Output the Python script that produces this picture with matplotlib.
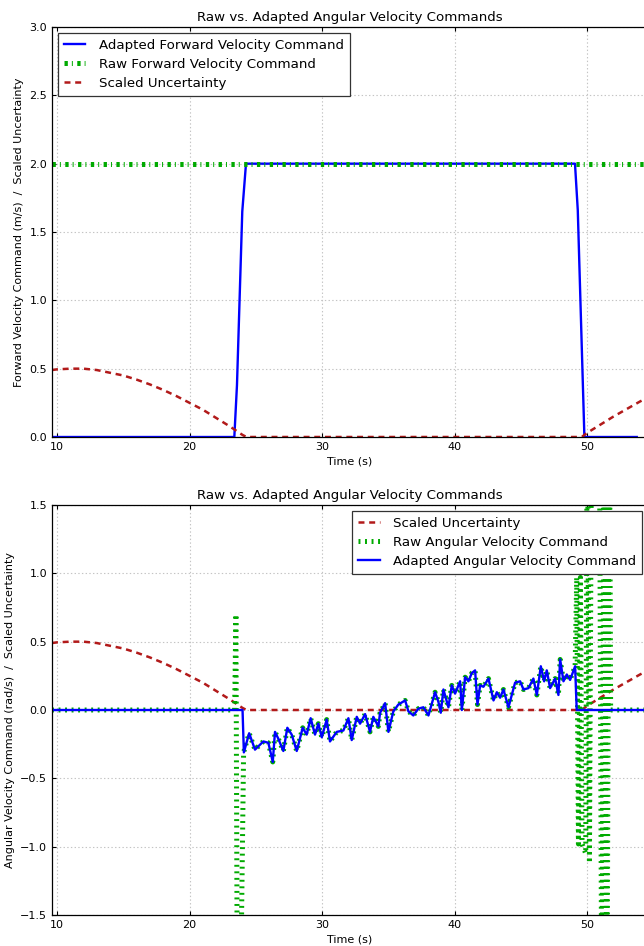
import matplotlib
matplotlib.use("Agg")
import matplotlib.pyplot as plt
from matplotlib.ticker import MultipleLocator

plt.rcParams['font.family'] = ['DejaVu Sans']
plt.rcParams['lines.scale_dashes'] = False

# ---------------- data ----------------
# scaled uncertainty (shared by both panels)
unc_t = [9.62, 10, 11, 12, 13, 14, 15, 16, 17, 18, 19, 20, 21, 22, 23, 24, 24.3,
         49.3, 49.6, 50, 51, 52, 53, 54, 54.7]
unc_v = [0.49, 0.495, 0.50, 0.50, 0.49, 0.47, 0.45, 0.42, 0.385, 0.345, 0.30, 0.25,
         0.20, 0.14, 0.08, 0.015, 0.0,
         0.0, 0.0, 0.03, 0.09, 0.15, 0.205, 0.26, 0.295]

# forward velocity
fwd_adapt_t = [9.62, 23.38, 23.58, 23.98, 24.26, 49.09, 49.30, 49.80, 53.75]
fwd_adapt_v = [0.0, 0.0, 0.38, 1.65, 2.0, 2.0, 1.66, 0.0, 0.0]
fwd_raw_t = [9.62, 54.7]
fwd_raw_v = [2.0, 2.0]

# angular velocity (adapted)
ang_t = [9.62, 24.0, 24.1, 24.5, 24.94, 25.57, 25.95, 26.28, 26.45, 26.7,
         27.08, 27.38, 27.71, 28.09, 28.54, 28.84, 29.14, 29.47, 29.72, 29.98,
         30.35, 30.60, 31.11, 31.61, 31.99, 32.24, 32.62, 32.87, 33.25, 33.62,
         33.87, 34.25, 34.38, 34.76, 35.01, 35.38, 35.76, 36.27, 36.52, 36.89,
         37.27, 37.65, 38.03, 38.53, 38.78, 38.96, 39.16, 39.54, 39.79, 40.04,
         40.42, 40.55, 40.80, 41.05, 41.30, 41.55, 41.73, 41.93, 42.18, 42.56,
         42.94, 43.19, 43.44, 43.69, 44.07, 44.57, 44.95, 45.20, 45.58, 45.95,
         46.21, 46.51, 46.76, 46.96, 47.21, 47.59, 47.84, 47.97, 48.22, 48.47,
         48.72, 49.10, 49.22, 54.7]
ang_v = [0.0, 0.0, -0.31, -0.17, -0.29, -0.23, -0.24, -0.38, -0.16, -0.21,
         -0.30, -0.13, -0.18, -0.30, -0.13, -0.18, -0.06, -0.18, -0.10, -0.20,
         -0.07, -0.23, -0.16, -0.15, -0.06, -0.22, -0.05, -0.10, -0.03, -0.16,
         -0.05, -0.12, -0.02, 0.05, -0.16, -0.01, 0.04, 0.07, -0.01, -0.04,
         0.01, 0.02, -0.04, 0.13, 0.06, -0.02, 0.15, 0.02, 0.18, 0.12,
         0.21, 0.00, 0.24, 0.21, 0.27, 0.29, 0.04, 0.18, 0.17, 0.23,
         0.07, 0.13, 0.09, 0.15, 0.02, 0.20, 0.21, 0.15, 0.16, 0.23,
         0.11, 0.32, 0.21, 0.29, 0.16, 0.23, 0.11, 0.37, 0.21, 0.26,
         0.22, 0.32, 0.0, 0.0]

# angular velocity (raw): spikes before / after the adapted segment
raw_burst1_t = [9.62, 23.40, 23.50, 23.62, 23.80, 24.08]
raw_burst1_v = [0.0, 0.0, 0.70, -2.5, -2.5, -0.31]
raw_burst2_t = [49.22, 49.35, 49.50, 49.62, 49.90, 50.02, 50.18, 50.36,
                50.92, 51.12, 51.30, 51.50, 51.68, 51.78, 54.7]
raw_burst2_v = [0.97, -0.98, 0.97, -0.98, -1.05, 2.5, -1.12, 2.5,
                2.5, -2.5, 2.5, -2.5, 2.5, 0.0, 0.0]

raw_ang_t = raw_burst1_t + ang_t[3:-2] + [49.10] + raw_burst2_t
raw_ang_v = raw_burst1_v + ang_v[3:-2] + [0.32] + raw_burst2_v

# ---------------- style ----------------
BLUE = '#0000ff'
GREEN = '#00aa00'
RED = '#b21a1a'
FS_BIG = 9.6
FS_SMALL = 8

W, H = 644, 946
fig = plt.figure(figsize=(W / 100, H / 100), dpi=100)
left = 52 / W
width = (648 - 52) / W
ax1 = fig.add_axes([left, 1 - 437 / H, width, 410 / H])
ax2 = fig.add_axes([left, 1 - 915 / H, width, 410 / H])


def style(ax):
    ax.xaxis.set_major_locator(MultipleLocator(10))
    ax.yaxis.set_major_locator(MultipleLocator(0.5))
    ax.grid(True, color='#c4c4c4', linestyle=':', linewidth=0.8)
    ax.set_axisbelow(True)
    ax.tick_params(direction='in', top=True, right=True, length=3.2, width=0.8,
                   labelsize=FS_SMALL, pad=3.5)
    for s in ax.spines.values():
        s.set_linewidth(0.9)
    ax.set_xlim(9.62, 54.6)
    ax.set_xlabel('Time (s)', fontsize=FS_SMALL, labelpad=3)
    ax.set_title('Raw vs. Adapted Angular Velocity Commands', fontsize=FS_BIG, pad=4)


# ---- top panel ----
ax1.plot(fwd_adapt_t, fwd_adapt_v, color=BLUE, lw=1.7,
         label='Adapted Forward Velocity Command')
ax1.plot(fwd_raw_t, fwd_raw_v, color=GREEN, lw=3.6, dashes=(2.4, 2.9, 0.7, 3.2),
         dash_capstyle='butt', label='Raw Forward Velocity Command')
ax1.plot(unc_t, unc_v, color=RED, lw=1.8, dashes=(4.3, 3.4),
         label='Scaled Uncertainty')
ax1.set_ylim(0, 3.0)
ax1.set_ylabel('Forward Velocity Command (m/s)  /  Scaled Uncertainty',
               fontsize=FS_SMALL, labelpad=4)
style(ax1)
leg1 = ax1.legend(loc='upper left', fontsize=FS_BIG, fancybox=False,
                  handlelength=1.6, handletextpad=1.0, labelspacing=0.45,
                  borderpad=0.45, borderaxespad=0.45, framealpha=1)
leg1.get_frame().set_edgecolor('#333333')
leg1.get_frame().set_linewidth(0.9)

# ---- bottom panel ----
ax2.plot(unc_t, unc_v, color=RED, lw=1.8, dashes=(4.3, 3.4),
         label='Scaled Uncertainty')
ax2.plot(raw_ang_t, raw_ang_v, color=GREEN, lw=3.6, dashes=(1.4, 3.3),
         dash_capstyle='butt', label='Raw Angular Velocity Command')
ax2.plot(ang_t, ang_v, color=BLUE, lw=1.7,
         label='Adapted Angular Velocity Command')
ax2.set_ylim(-1.5, 1.5)
ax2.set_ylabel('Angular Velocity Command (rad/s)  /  Scaled Uncertainty',
               fontsize=FS_SMALL, labelpad=4)
style(ax2)
leg2 = ax2.legend(loc='upper right', fontsize=FS_BIG, fancybox=False,
                  handlelength=1.6, handletextpad=1.0, labelspacing=0.45,
                  borderpad=0.45, borderaxespad=0.45, framealpha=1)
leg2.get_frame().set_edgecolor('#333333')
leg2.get_frame().set_linewidth(0.9)

fig.savefig('out.png', dpi=100, facecolor='white')
